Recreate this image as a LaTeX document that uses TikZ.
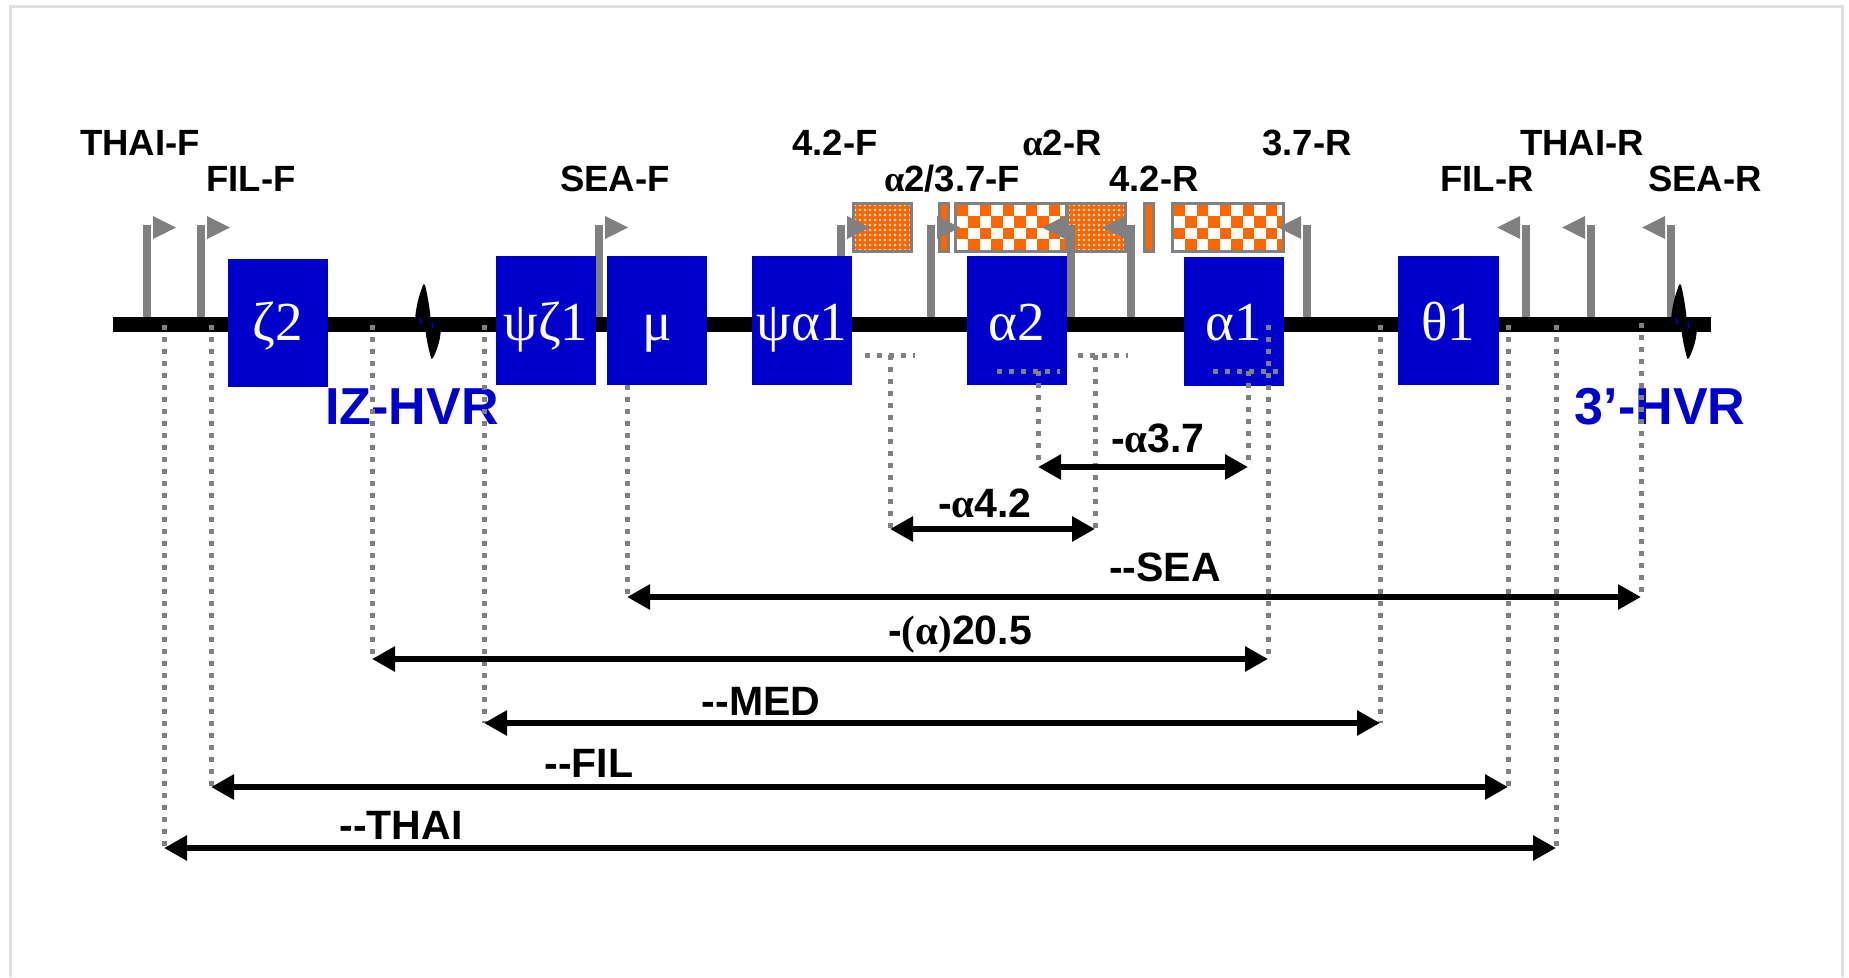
\documentclass[tikz,border=0pt]{standalone}
\usepackage{fontspec}
\setmainfont{Liberation Sans}
\newfontfamily\grk{Liberation Serif}
\usetikzlibrary{arrows.meta}

\definecolor{exonblue}{RGB}{0,0,204}
\definecolor{primergray}{RGB}{128,128,128}
\definecolor{hatchorange}{RGB}{255,102,0}

\begin{document}
\begin{tikzpicture}[x=1pt,y=-1pt,
    exon/.style={fill=exonblue},
    exonlabel/.style={text=white,anchor=base,font=\grk\fontsize{55}{55}\selectfont},
    primer/.style={anchor=base,font=\bfseries\fontsize{36.5}{40}\selectfont},
    dellabel/.style={anchor=base,font=\bfseries\fontsize{41}{44}\selectfont},
    hvr/.style={anchor=base,text=exonblue,font=\bfseries\fontsize{52}{56}\selectfont},
    stem/.style={primergray,line width=8pt},
    guide/.style={primergray,line width=5pt,dash pattern=on 5pt off 7pt},
    delarrow/.style={line width=6.5pt,{Triangle[length=23pt,width=24pt]}-{Triangle[length=23pt,width=24pt]}}]
    \useasboundingbox (0,0) rectangle (1849,977);
    \draw[gray!25,line width=3pt] (10,977) -- (10,6) -- (1842,6) -- (1842,977);

    % deleted regions above the map
    \foreach \bx in {853,1067} {
        \begin{scope}
            \clip (\bx,203) rectangle (\bx+58,251);
            \fill[hatchorange] (\bx,203) rectangle (\bx+58,251);
            \foreach \i in {0,...,11} \foreach \j in {0,...,9}
                \fill[white!85!hatchorange] (\bx+2+5*\i,205+5*\j) circle (1.3);
        \end{scope}
        \draw[primergray,line width=3pt] (\bx,203) rectangle (\bx+58,251);
    }
    \foreach \bx in {939,1144}
        \filldraw[fill=hatchorange,draw=primergray,line width=3pt] (\bx,203) rectangle (\bx+9,251);
    \foreach \bx in {955,1172} {
        \begin{scope}
            \clip (\bx,203) rectangle (\bx+111,251);
            \fill[white] (\bx,203) rectangle (\bx+111,251);
            \foreach \i in {0,...,9} \foreach \j in {0,...,3} {
                \ifodd\numexpr\i+\j\relax\else
                    \fill[hatchorange] (\bx+1.5+11.5*\i,204.5+11.5*\j) rectangle ++(11.5,11.5);
                \fi
            }
        \end{scope}
        \draw[primergray,line width=3pt] (\bx,203) rectangle (\bx+111,251);
    }

    % primers
    \foreach \px in {147,201,599,841,931} {
        \draw[stem] (\px,225) -- (\px,318);
        \fill[primergray] (\px+6,216) -- (\px+29,227.5) -- (\px+6,239) -- cycle;
    }
    \foreach \px in {1071,1131,1307,1526,1591,1671} {
        \draw[stem] (\px,225) -- (\px,318);
        \fill[primergray] (\px-6,216) -- (\px-29,227.5) -- (\px-6,239) -- cycle;
    }

    \fill (113,317) rectangle (1711,332);

    % genes
    \fill[exon] (228,259) rectangle (328,387);
    \fill[exon] (496,256) rectangle (596,385);
    \fill[exon] (607,256) rectangle (707,385);
    \fill[exon] (752,256) rectangle (852,385);
    \fill[exon] (967,256) rectangle (1067,385);
    \fill[exon] (1184,257) rectangle (1284,386);
    \fill[exon] (1398,256) rectangle (1499,385);
    \node[exonlabel] (zeta2) at (278,340) {ζ2};
    \node[exonlabel] (psizeta1) at (546,340) {ψζ1};
    \node[exonlabel] (mu) at (657,340) {μ};
    \node[exonlabel] (psialpha1) at (802,340) {ψα1};
    \node[exonlabel] (alpha2) at (1017,340) {α2};
    \node[exonlabel] (alpha1) at (1234,340) {α1};
    \node[exonlabel] (theta1) at (1448,340) {θ1};

    % hypervariable regions
    \foreach \bx in {424,1680} {
        \fill (\bx-1,285) .. controls (\bx-5,295) and (\bx-9,310) .. (\bx-9,323) -- (\bx+7,323) .. controls (\bx+6,308) and (\bx+3,293) .. (\bx+1,285) .. controls (\bx+0.5,284) and (\bx-0.5,284) .. cycle;
        \fill (\bx+1,326) -- (\bx+17,326) .. controls (\bx+17,339) and (\bx+13,350) .. (\bx+9,358) .. controls (\bx+8,359) and (\bx+7,359) .. (\bx+7,358) .. controls (\bx+5,350) and (\bx+2,339) .. cycle;
        \draw[exonblue,line width=1.5pt] (\bx-4,318) -- (\bx-3,324) (\bx+8,322) -- (\bx+9,328);
    }
    \node[hvr] (izhvr) at (412,424) {IZ-HVR};
    \node[hvr] (hvr3) at (1660,424) {3’-HVR};

    % primer names
    \node[primer] (thaiF) at (140,155) {THAI-F};
    \node[primer] (filF) at (251,191) {FIL-F};
    \node[primer] (seaF) at (615,191) {SEA-F};
    \node[primer] (f42) at (835,155) {4.2-F};
    \node[primer] (f37) at (952,191) {{\grk α}2/3.7-F};
    \node[primer] (alpha2R) at (1062,155) {{\grk α}2-R};
    \node[primer] (r42) at (1154,191) {4.2-R};
    \node[primer] (r37) at (1307,155) {3.7-R};
    \node[primer] (thaiR) at (1582,155) {THAI-R};
    \node[primer] (filR) at (1487,191) {FIL-R};
    \node[primer] (seaR) at (1705,191) {SEA-R};

    % breakpoints
    \coordinate (thaiL) at (164,325);  \coordinate (thaiLa) at (164,848);
    \coordinate (thaiR) at (1556,325); \coordinate (thaiRa) at (1556,848);
    \coordinate (filL) at (211,325);   \coordinate (filLa) at (211,787);
    \coordinate (filR) at (1508,325);  \coordinate (filRa) at (1508,787);
    \coordinate (medL) at (484,325);   \coordinate (medLa) at (484,723);
    \coordinate (medR) at (1380,325);  \coordinate (medRa) at (1380,723);
    \coordinate (d205L) at (372,325);  \coordinate (d205La) at (372,659);
    \coordinate (d205R) at (1268,325); \coordinate (d205Ra) at (1268,659);
    \coordinate (seaL) at (627,385);   \coordinate (seaLa) at (627,597);
    \coordinate (seaR) at (1641,323);  \coordinate (seaRa) at (1641,597);
    \coordinate (d42L) at (890,355);   \coordinate (d42La) at (890,529);
    \coordinate (d42R) at (1095,355);  \coordinate (d42Ra) at (1095,529);
    \coordinate (d37L) at (1038,371);  \coordinate (d37La) at (1038,467);
    \coordinate (d37R) at (1248,371);  \coordinate (d37Ra) at (1248,467);

    \draw[guide] (865,355) -- (915,355);
    \draw[guide] (1078,355) -- (1128,355);
    \draw[guide] (997,371) -- (1060,371);
    \draw[guide] (1213,371) -- (1280,371);
    \foreach \c in {thaiL,thaiR,filL,filR,medL,medR,d205L,d205R,seaL,seaR,d42L,d42R,d37L,d37R}
        \draw[guide] (\c) -- (\c a);

    % deletions
    \draw[delarrow] (d37La) -- (d37Ra);
    \draw[delarrow] (d42La) -- (d42Ra);
    \draw[delarrow] (seaLa) -- (seaRa);
    \draw[delarrow] (d205La) -- (d205Ra);
    \draw[delarrow] (medLa) -- (medRa);
    \draw[delarrow] (filLa) -- (filRa);
    \draw[delarrow] (thaiLa) -- (thaiRa);

    \node[dellabel] (a37) at (1158,452) {-{\grk α}3.7};
    \node[dellabel] (a42) at (985,517) {-{\grk α}4.2};
    \node[dellabel] (sea) at (1165,581) {-{}-SEA};
    \node[dellabel] (a205) at (960,644) {-{\grk(α)}20.5};
    \node[dellabel] (med) at (761,715) {-{}-MED};
    \node[dellabel] (fil) at (589,777) {-{}-FIL};
    \node[dellabel] (thai) at (401,839) {-{}-THAI};
\end{tikzpicture}
\end{document}
